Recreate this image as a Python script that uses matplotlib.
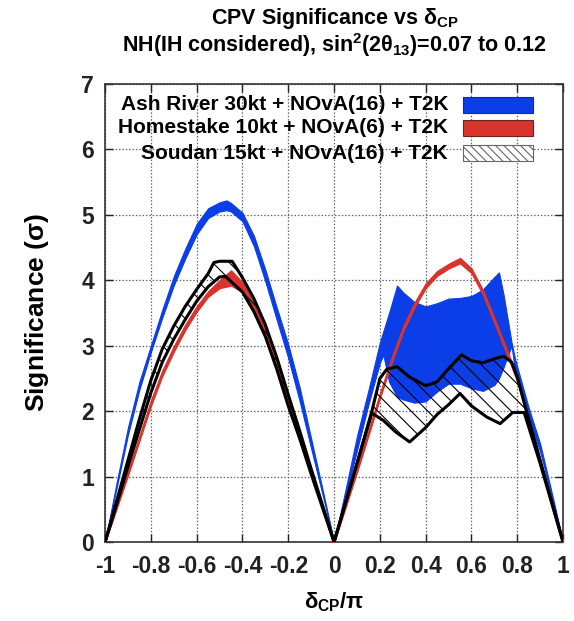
import numpy as np
import matplotlib
matplotlib.use("Agg")
import matplotlib.pyplot as plt
from matplotlib.patches import Rectangle

plt.rcParams['font.family'] = ['Liberation Sans', 'DejaVu Sans']
plt.rcParams['font.weight'] = 'bold'
plt.rcParams['axes.labelweight'] = 'bold'
plt.rcParams['mathtext.fontset'] = 'custom'
plt.rcParams['mathtext.rm'] = 'Liberation Sans:bold'
plt.rcParams['mathtext.bf'] = 'Liberation Sans:bold'
plt.rcParams['mathtext.it'] = 'Liberation Sans'
plt.rcParams['hatch.linewidth'] = 0.8

# Ash River 30kt + NOvA(16) + T2K : band over theta13 range
blue_x = [-1, -0.95, -0.9, -0.85, -0.8, -0.75, -0.7, -0.65, -0.6, -0.55, -0.5, -0.47,
          -0.45, -0.4, -0.35, -0.3, -0.25, -0.2, -0.15, -0.1, -0.05, 0, 0.05, 0.1, 0.15,
          0.2, 0.215, 0.24, 0.275, 0.3, 0.35, 0.4, 0.45, 0.5, 0.55, 0.6, 0.65, 0.7, 0.72,
          0.74, 0.775, 0.79, 0.85, 0.9, 0.95, 1]
blue_hi = [0, 0.9, 1.75, 2.45, 3.0, 3.55, 4.06, 4.48, 4.86, 5.1, 5.19, 5.22,
           5.18, 5.03, 4.68, 4.16, 3.58, 3.02, 2.36, 1.58, 0.8, 0, 0.8, 1.62, 2.32,
           3.05, 3.22, 3.5, 3.92, 3.82, 3.67, 3.6, 3.65, 3.72, 3.73, 3.76, 3.86, 4.05, 4.12,
           3.78, 3.05, 2.8, 2.05, 1.5, 0.76, 0]
blue_lo = [0, 0.82, 1.64, 2.33, 2.9, 3.43, 3.92, 4.33, 4.7, 4.95, 5.05, 5.07,
           5.05, 4.9, 4.52, 3.98, 3.39, 2.81, 2.15, 1.43, 0.72, 0, 0.7, 1.4, 2.1,
           2.74, 2.86, 2.45, 2.22, 2.18, 2.13, 2.15, 2.3, 2.42, 2.42, 2.35, 2.31, 2.4, 2.5,
           2.67, 3.0, 2.62, 1.9, 1.38, 0.7, 0]

# Homestake 10kt + NOvA(6) + T2K
red_x = [-1, -0.9, -0.8, -0.75, -0.7, -0.65, -0.6, -0.55, -0.5, -0.45, -0.4, -0.35, -0.3,
         -0.25, -0.2, -0.15, -0.1, -0.05, 0, 0.05, 0.1, 0.15, 0.2, 0.25, 0.3, 0.35, 0.4,
         0.45, 0.5, 0.55, 0.6, 0.65, 0.7, 0.75, 0.8, 0.85, 0.9, 0.95, 1]
red_hi = [0, 1.08, 2.16, 2.62, 2.99, 3.32, 3.6, 3.83, 4.0, 4.15, 3.97, 3.65, 3.25,
          2.76, 2.18, 1.63, 1.08, 0.54, 0, 0.57, 1.13, 1.7, 2.27, 2.8, 3.28, 3.65, 3.95,
          4.14, 4.25, 4.34, 4.18, 3.85, 3.42, 2.98, 2.52, 1.9, 1.25, 0.62, 0]
red_lo = [0, 1.02, 2.08, 2.54, 2.91, 3.24, 3.52, 3.75, 3.88, 3.92, 3.82, 3.52, 3.12,
          2.64, 2.08, 1.55, 1.02, 0.51, 0, 0.53, 1.07, 1.63, 2.2, 2.73, 3.21, 3.58, 3.88,
          4.07, 4.18, 4.26, 4.11, 3.78, 3.35, 2.91, 2.45, 1.84, 1.2, 0.59, 0]

# Soudan 15kt + NOvA(16) + T2K : upper and lower edges
sd_hi_x = [-1, -0.95, -0.9, -0.85, -0.8, -0.75, -0.7, -0.65, -0.6, -0.55, -0.525, -0.5,
           -0.445, -0.4, -0.35, -0.3, -0.25, -0.2, -0.15, -0.1, -0.05, 0, 0.05, 0.1, 0.165,
           0.2, 0.23, 0.275, 0.33, 0.4, 0.45, 0.5, 0.557, 0.6, 0.65, 0.7, 0.74, 0.775, 0.8,
           0.84, 0.9, 0.95, 1]
sd_hi = [0, 0.62, 1.25, 1.88, 2.47, 2.95, 3.3, 3.6, 3.86, 4.1, 4.27, 4.29,
         4.29, 4.04, 3.72, 3.32, 2.82, 2.25, 1.7, 1.12, 0.56, 0, 0.6, 1.2, 2.0,
         2.5, 2.64, 2.68, 2.52, 2.39, 2.45, 2.65, 2.86, 2.77, 2.74, 2.8, 2.84, 2.75, 2.52,
         2.0, 1.25, 0.62, 0]
sd_lo_x = [-1, -0.95, -0.9, -0.85, -0.8, -0.75, -0.7, -0.65, -0.6, -0.55, -0.5, -0.475,
           -0.45, -0.4, -0.35, -0.3, -0.25, -0.2, -0.15, -0.1, -0.05, 0, 0.05, 0.1, 0.165,
           0.215, 0.27, 0.33, 0.4, 0.45, 0.5, 0.55, 0.6, 0.667, 0.725, 0.78, 0.83, 0.9,
           0.95, 1]
sd_lo = [0, 0.57, 1.15, 1.72, 2.28, 2.75, 3.1, 3.4, 3.68, 3.9, 4.05, 4.06,
         3.98, 3.82, 3.52, 3.14, 2.64, 2.08, 1.58, 1.04, 0.52, 0, 0.6, 1.2, 1.97,
         1.86, 1.68, 1.53, 1.75, 1.95, 2.1, 2.27, 2.08, 1.91, 1.81, 1.98, 1.98, 1.2,
         0.6, 0]

labels = ["Ash River 30kt + NOvA(16) + T2K",
          "Homestake 10kt + NOvA(6) + T2K",
          "Soudan 15kt + NOvA(16) + T2K"]
xticks = [-1, -0.8, -0.6, -0.4, -0.2, 0, 0.2, 0.4, 0.6, 0.8, 1]
xticklabels = ["-1", "-0.8", "-0.6", "-0.4", "-0.2", "0", "0.2", "0.4", "0.6", "0.8", "1"]

blue = '#0c3ee8'
red = '#d9342b'

fig = plt.figure(figsize=(5.74, 6.21), dpi=100)
ax = fig.add_axes([0.183, 0.127, 0.798, 0.738])

ax.fill_between(blue_x, blue_lo, blue_hi, facecolor=blue, edgecolor=blue, lw=0.8, zorder=2)
ax.fill_between(red_x, red_lo, red_hi, facecolor=red, edgecolor=red, lw=1.0, zorder=3)

# hatched Soudan band: upper edge forward, lower edge back
poly_x = np.r_[sd_hi_x, sd_lo_x[::-1]]
poly_y = np.r_[sd_hi, sd_lo[::-1]]
ax.fill(poly_x, poly_y, facecolor='none', edgecolor='black', hatch='\\\\', lw=0, zorder=4)
ax.plot(sd_hi_x, sd_hi, color='black', lw=2.2, zorder=5)
ax.plot(sd_lo_x, sd_lo, color='black', lw=2.2, zorder=5)

ax.set_xlim(-1, 1)
ax.set_ylim(0, 7)
ax.set_xticks(xticks)
ax.set_xticklabels(xticklabels)
ax.set_yticks(range(8))
ax.tick_params(direction='in', top=True, right=True, length=6, width=1,
               labelsize=16.5, colors='#222222')
ax.tick_params(axis='x', pad=9)
ax.tick_params(axis='y', pad=8)
ax.set_axisbelow(True)
ax.grid(True, color='#666666', linestyle=(0, (1.2, 1.5)), linewidth=0.9)
for s in ax.spines.values():
    s.set_linewidth(1.2)
    s.set_color('#333333')

ax.set_xlabel(r'$δ_{\mathrm{CP}}/π$', fontsize=16, labelpad=9)
ax.set_ylabel(r'Significance ($σ$)', fontsize=19, labelpad=22)

fig.text(0.583, 0.970, r'CPV Significance vs $δ_{\mathrm{CP}}$', ha='center', va='center',
         fontsize=15.5)
fig.text(0.583, 0.927, r'NH(IH considered), sin$^{\mathrm{2}}$(2$θ_{\mathrm{13}}$)=0.07 to 0.12',
         ha='center', va='center', fontsize=15.5)

# legend: right-aligned text with colour swatches
row_y = [0.954, 0.904, 0.849]
styles = [dict(facecolor=blue, edgecolor='#1a2a80'),
          dict(facecolor=red, edgecolor='#702020'),
          dict(facecolor='white', edgecolor='#666666', hatch='\\\\\\\\')]
for lab, yy, st in zip(labels, row_y, styles):
    ax.text(0.749, yy, lab, transform=ax.transAxes, ha='right', va='center',
            fontsize=15, zorder=7)
    ax.add_patch(Rectangle((0.782, yy - 0.017), 0.152, 0.034, transform=ax.transAxes,
                           lw=0.8, zorder=7, **st))

fig.savefig('out.png', dpi=100)
